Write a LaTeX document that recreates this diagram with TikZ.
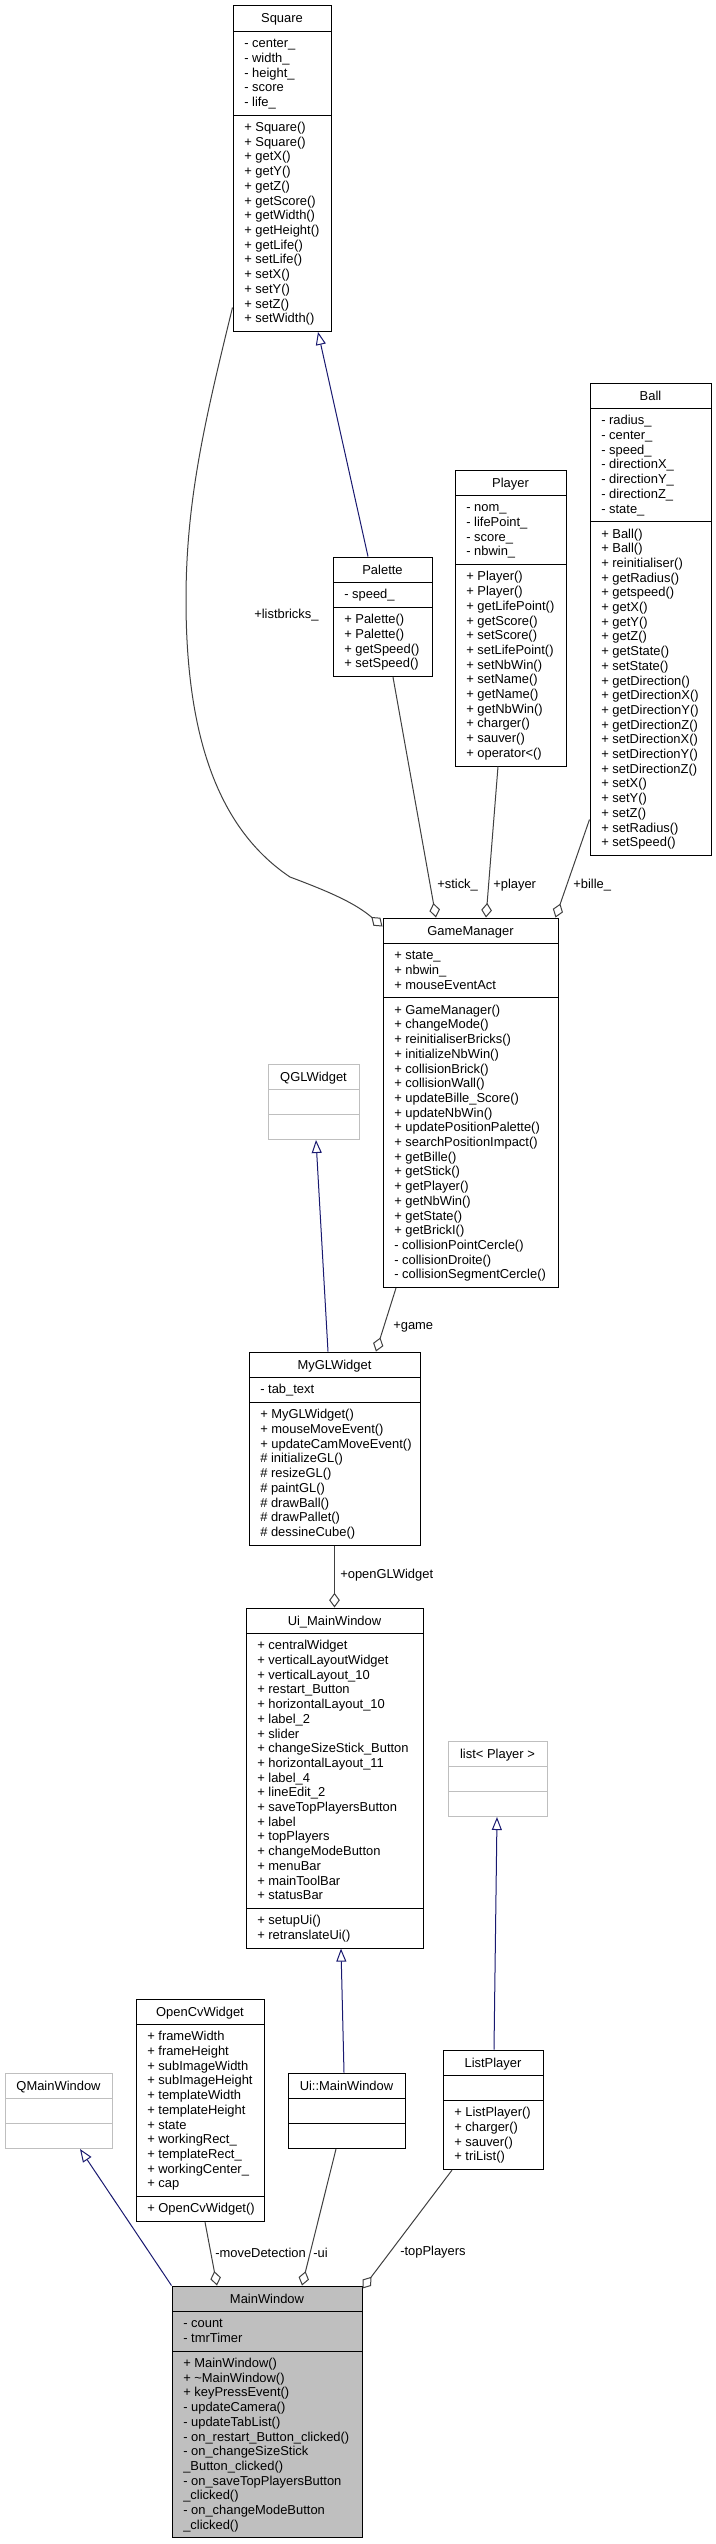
\documentclass[tikz,border=0pt]{standalone}
\usepackage{fontspec}
\setmainfont{Liberation Sans}
\usetikzlibrary{arrows.meta,fit}
\definecolor{navy}{HTML}{191970}
\definecolor{aggc}{HTML}{404040}
\definecolor{extc}{HTML}{BFBFBF}
\definecolor{mwfill}{HTML}{BFBFBF}
\tikzset{
  lbl/.style={inner sep=0pt, font=\fontsize{9.7pt}{11pt}\selectfont},
  boxframe/.style={draw=black, line width=0.75pt, inner sep=0pt, fill=white},
  sepline/.style={draw=black, line width=0.75pt},
  inherit/.style={draw=navy, line width=0.75pt, -{Triangle[open,length=9.75pt,width=7.5pt]}},
  aggr/.style={draw=aggc, line width=0.75pt, -{Diamond[open,length=11pt,width=8pt]}},
}
% #1 name, #2 xl, #3 xr, #4 top, #5 n attrs, #6 n methods, #7 title, #8 attrs, #9 methods
\newcommand\umlbox[9]{%
  \pgfmathsetmacro\ya{#4+25.5}%
  \pgfmathsetmacro\yb{\ya+max(25,#5*14.7+10.3)}%
  \pgfmathsetmacro\yc{\yb+max(25,#6*14.7+10.3)}%
  \node[boxframe, fit={(#2,#4) (#3,\yc)}] (#1) {};
  \draw[sepline] (#2,\ya) -- (#3,\ya);
  \draw[sepline] (#2,\yb) -- (#3,\yb);
  \node[lbl, anchor=base] (#1-t) at ({(#2+#3)/2},{#4+17}) {#7};
  \ifnum#5>0
    \foreach \itm [count=\i] in {#8} {\node[lbl, anchor=base west] (#1-a\i) at ({#2+11},{\ya+16.3+(\i-1)*14.7}) {\itm};}
  \fi
  \ifnum#6>0
    \foreach \itm [count=\i] in {#9} {\node[lbl, anchor=base west] (#1-m\i) at ({#2+11},{\yb+16.3+(\i-1)*14.7}) {\itm};}
  \fi
}
\begin{document}
\begin{tikzpicture}[x=0.75pt, y=-0.75pt]
\fill[white] (0,0) rectangle (716,2544);
\useasboundingbox (0,0) rectangle (716,2544);

\umlbox{sq}{233}{331}{6}{5}{14}{Square}
 {- center\_, - width\_, - height\_, - score, - life\_}
 {+ Square(), + Square(), + getX(), + getY(), + getZ(), + getScore(), + getWidth(), + getHeight(), + getLife(), + setLife(), + setX(), + setY(), + setZ(), + setWidth()}

\umlbox{ball}{590}{711}{383}{7}{22}{Ball}
 {- radius\_, - center\_, - speed\_, - directionX\_, - directionY\_, - directionZ\_, - state\_}
 {+ Ball(), + Ball(), + reinitialiser(), + getRadius(), + getspeed(), + getX(), + getY(), + getZ(), + getState(), + setState(), + getDirection(), + getDirectionX(), + getDirectionY(), + getDirectionZ(), + setDirectionX(), + setDirectionY(), + setDirectionZ(), + setX(), + setY(), + setZ(), + setRadius(), + setSpeed()}

\umlbox{pl}{455}{566}{470}{4}{13}{Player}
 {- nom\_, - lifePoint\_, - score\_, - nbwin\_}
 {+ Player(), + Player(), + getLifePoint(), + getScore(), + setScore(), + setLifePoint(), + setNbWin(), + setName(), + getName(), + getNbWin(), + charger(), + sauver(), + operator<()}

\umlbox{pal}{333}{432}{557}{1}{4}{Palette}
 {- speed\_}
 {+ Palette(), + Palette(), + getSpeed(), + setSpeed()}

\umlbox{gm}{383}{558}{918}{3}{19}{GameManager}
 {+ state\_, + nbwin\_, + mouseEventAct}
 {+ GameManager(), + changeMode(), + reinitialiserBricks(), + initializeNbWin(), + collisionBrick(), + collisionWall(), + updateBille\_Score(), + updateNbWin(), + updatePositionPalette(), + searchPositionImpact(), + getBille(), + getStick(), + getPlayer(), + getNbWin(), + getState(), + getBrickI(), - collisionPointCercle(), - collisionDroite(), - collisionSegmentCercle()}

\begin{scope}[boxframe/.append style={draw=extc}, sepline/.append style={draw=extc}]
\umlbox{qgl}{268}{359}{1064}{0}{0}{QGLWidget}{}{}
\umlbox{lpl}{448}{547}{1741}{0}{0}{list< Player >}{}{}
\umlbox{qmw}{5}{112}{2073}{0}{0}{QMainWindow}{}{}
\end{scope}

\umlbox{mygl}{249}{420}{1352}{1}{9}{MyGLWidget}
 {- tab\_text}
 {+ MyGLWidget(), + mouseMoveEvent(), + updateCamMoveEvent(), \# initializeGL(), \# resizeGL(), \# paintGL(), \# drawBall(), \# drawPallet(), \# dessineCube()}

\umlbox{uim}{246}{423}{1608}{18}{2}{Ui\_MainWindow}
 {+ centralWidget, + verticalLayoutWidget, + verticalLayout\_10, + restart\_Button, + horizontalLayout\_10, + label\_2, + slider, + changeSizeStick\_Button, + horizontalLayout\_11, + label\_4, + lineEdit\_2, + saveTopPlayersButton, + label, + topPlayers, + changeModeButton, + menuBar, + mainToolBar, + statusBar}
 {+ setupUi(), + retranslateUi()}

\umlbox{lp}{443}{543}{2050}{0}{4}{ListPlayer}
 {}
 {+ ListPlayer(), + charger(), + sauver(), + triList()}

\umlbox{uimw}{288}{405}{2073}{0}{0}{Ui::MainWindow}{}{}

\umlbox{ocv}{136}{264}{1999}{11}{1}{OpenCvWidget}
 {+ frameWidth, + frameHeight, + subImageWidth, + subImageHeight, + templateWidth, + templateHeight, + state, + workingRect\_, + templateRect\_, + workingCenter\_, + cap}
 {+ OpenCvWidget()}

\begin{scope}[boxframe/.append style={fill=mwfill}]
\umlbox{mw}{172}{362}{2286}{2}{12}{MainWindow}
 {- count, - tmrTimer}
 {+ MainWindow(), + \textasciitilde{}MainWindow(), + keyPressEvent(), - updateCamera(), - updateTabList(), - on\_restart\_Button\_clicked(), - on\_changeSizeStick, \_Button\_clicked(), - on\_saveTopPlayersButton, \_clicked(), - on\_changeModeButton, \_clicked()}
\end{scope}

% inheritance
\draw[inherit] ([shift={(-14.5,0)}]pal.north) -- ([shift={(36,0)}]sq.south);
\draw[inherit] ([shift={(-6.5,0)}]mygl.north) -- ([shift={(2.5,0)}]qgl.south);
\draw[inherit] ([shift={(-2.5,0)}]uimw.north) -- ([shift={(6.5,0)}]uim.south);
\draw[inherit] ([shift={(1,0)}]lp.north) -- ([shift={(-0.5,0)}]lpl.south);
\draw[inherit] (mw.north west) -- ([shift={(21.5,0)}]qmw.south);

% aggregation
\draw[aggr] ([shift={(0,302)}]sq.north west) .. controls (205,420) and (186,500) .. (186,600)
  .. controls (186,740) and (220,830) .. (290,877)
  .. controls (330,892) and (355,903) .. ([shift={(0,9)}]gm.north west);
\draw[aggr] ([shift={(10.5,0)}]pal.south) -- ([shift={(-34.5,0)}]gm.north);
\draw[aggr] ([shift={(-12.5,0)}]pl.south) -- ([shift={(15.5,0)}]gm.north);
\draw[aggr] ([shift={(0,437)}]ball.north west) -- ([shift={(-3,0)}]gm.north east);
\draw[aggr] ([shift={(-74.5,0)}]gm.south) -- ([shift={(41.5,0)}]mygl.north);
\draw[aggr] (mygl.south) -- (uim.north);
\draw[aggr] ([shift={(5,0)}]ocv.south) -- ([shift={(-50,0)}]mw.north);
\draw[aggr] ([shift={(-10.5,0)}]uimw.south) -- ([shift={(35,0)}]mw.north);
\draw[aggr] ([shift={(-41,0)}]lp.south) -- ([shift={(0,3)}]mw.north east);

% edge labels
\node[lbl, anchor=west] (lb-bricks) at (254,615) {+listbricks\_};
\node[lbl, anchor=west] (lb-stick) at (437,885) {+stick\_};
\node[lbl, anchor=west] (lb-player) at (493,885) {+player};
\node[lbl, anchor=west] (lb-bille) at (573,885) {+bille\_};
\node[lbl, anchor=west] (lb-game) at (393,1327) {+game};
\node[lbl, anchor=west] (lb-ogl) at (340,1575) {+openGLWidget};
\node[lbl, anchor=west] (lb-move) at (215,2253) {-moveDetection};
\node[lbl, anchor=west] (lb-ui) at (313,2253) {-ui};
\node[lbl, anchor=west] (lb-top) at (400,2252) {-topPlayers};
\end{tikzpicture}
\end{document}
